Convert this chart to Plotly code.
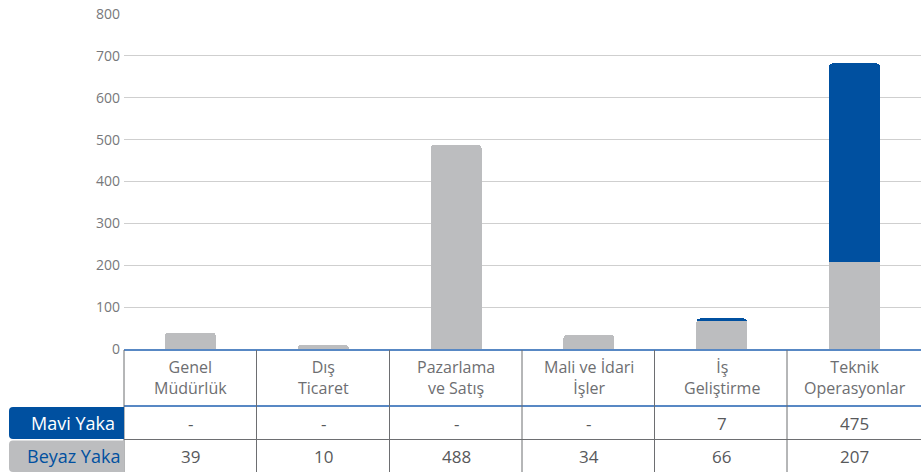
import plotly.graph_objects as go

# ---- data ----
categories = ["Genel Müdürlük", "Dış Ticaret", "Pazarlama ve Satış",
              "Mali ve İdari İşler", "İş Geliştirme", "Teknik Operasyonlar"]
category_labels = ["Genel<br>Müdürlük", "Dış<br>Ticaret", "Pazarlama<br>ve Satış",
                   "Mali ve İdari<br>İşler", "İş<br>Geliştirme", "Teknik<br>Operasyonlar"]
mavi_yaka = [None, None, None, None, 7, 475]
beyaz_yaka = [39, 10, 488, 34, 66, 207]
series_names = ["Mavi Yaka", "Beyaz Yaka"]
y_ticks = [0, 100, 200, 300, 400, 500, 600, 700, 800]

W, H = 921, 472
BLUE = "#0050A0"
GRAY = "#BCBDBF"
LINE_BLUE = "#2060B0"
LINE_GRAY = "#6D6E71"
FONT = "Open Sans"


def px(x):
    return x / W


def py(y):
    return 1 - y / H


fig = go.Figure()
fig.add_trace(go.Bar(x=categories, y=beyaz_yaka, name=series_names[1],
                     marker=dict(color=GRAY, line=dict(width=0))))
fig.add_trace(go.Bar(x=categories, y=[v if v is not None else 0 for v in mavi_yaka],
                     name=series_names[0], marker=dict(color=BLUE, line=dict(width=0))))

shapes = []
annotations = []

# table horizontal lines
for yy, col, w in [(350, LINE_BLUE, 1.5), (406, LINE_BLUE, 1.5), (439.5, LINE_GRAY, 1)]:
    shapes.append(dict(type="line", xref="paper", yref="paper",
                       x0=px(124), x1=1, y0=py(yy), y1=py(yy),
                       line=dict(color=col, width=w)))
# vertical separators
for xx in [124, 256.5, 389.5, 522, 654.5, 787]:
    shapes.append(dict(type="line", xref="paper", yref="paper",
                       x0=px(xx), x1=px(xx), y0=py(350), y1=0,
                       line=dict(color=LINE_GRAY, width=1)))


def rounded_left(x0, y0, x1, y1, r):
    pts = (f"M {px(x1)},{py(y0)} L {px(x0 + r)},{py(y0)} "
           f"Q {px(x0)},{py(y0)} {px(x0)},{py(y0 + r)} "
           f"L {px(x0)},{py(y1 - r)} "
           f"Q {px(x0)},{py(y1)} {px(x0 + r)},{py(y1)} "
           f"L {px(x1)},{py(y1)} Z")
    return pts


shapes.append(dict(type="path", xref="paper", yref="paper",
                   path=rounded_left(9, 407, 124, 439, 4),
                   fillcolor=BLUE, line=dict(width=0)))
shapes.append(dict(type="path", xref="paper", yref="paper",
                   path=rounded_left(9, 440.5, 124, 472, 4),
                   fillcolor=GRAY, line=dict(width=0)))

annotations.append(dict(text=series_names[0], xref="paper", yref="paper",
                        x=px(117), y=py(423), xanchor="right", yanchor="middle",
                        showarrow=False, font=dict(family=FONT, size=18, color="white")))
annotations.append(dict(text=series_names[1], xref="paper", yref="paper",
                        x=px(122), y=py(456), xanchor="right", yanchor="middle",
                        showarrow=False, font=dict(family=FONT, size=18, color=BLUE)))

for cat, lab, mv, by in zip(categories, category_labels, mavi_yaka, beyaz_yaka):
    annotations.append(dict(text=lab, x=cat, xref="x", yref="paper", y=py(377),
                            xanchor="center", yanchor="middle", showarrow=False,
                            font=dict(family=FONT, size=16, color="#6D6E71")))
    annotations.append(dict(text="-" if mv is None else str(mv), x=cat, xref="x",
                            yref="paper", y=py(423), xanchor="center", yanchor="middle",
                            showarrow=False, font=dict(family=FONT, size=17, color="#58595B")))
    annotations.append(dict(text=str(by), x=cat, xref="x",
                            yref="paper", y=py(456), xanchor="center", yanchor="middle",
                            showarrow=False, font=dict(family=FONT, size=17, color="#58595B")))

fig.update_layout(
    width=W, height=H,
    margin=dict(l=0, r=0, t=0, b=0, autoexpand=False),
    paper_bgcolor="white", plot_bgcolor="white",
    barmode="stack", bargap=0.615, barcornerradius=4,
    showlegend=False,
    shapes=shapes, annotations=annotations,
    xaxis=dict(domain=[px(124), 1], showticklabels=False, showgrid=False,
               zeroline=False, showline=False, fixedrange=True, automargin=False),
    yaxis=dict(domain=[py(349), py(14)], range=[0, 800], tickvals=y_ticks,
               showgrid=True, gridcolor="#CFCFCF", gridwidth=1, zeroline=False,
               showline=False, ticks="", ticklabelstandoff=3, automargin=False,
               fixedrange=True,
               tickfont=dict(family=FONT, size=14, color="#77787B")),
)

fig.write_html("out.html", config={"displayModeBar": False},
               post_script="document.body.style.margin='0';document.body.style.overflow='hidden';")
